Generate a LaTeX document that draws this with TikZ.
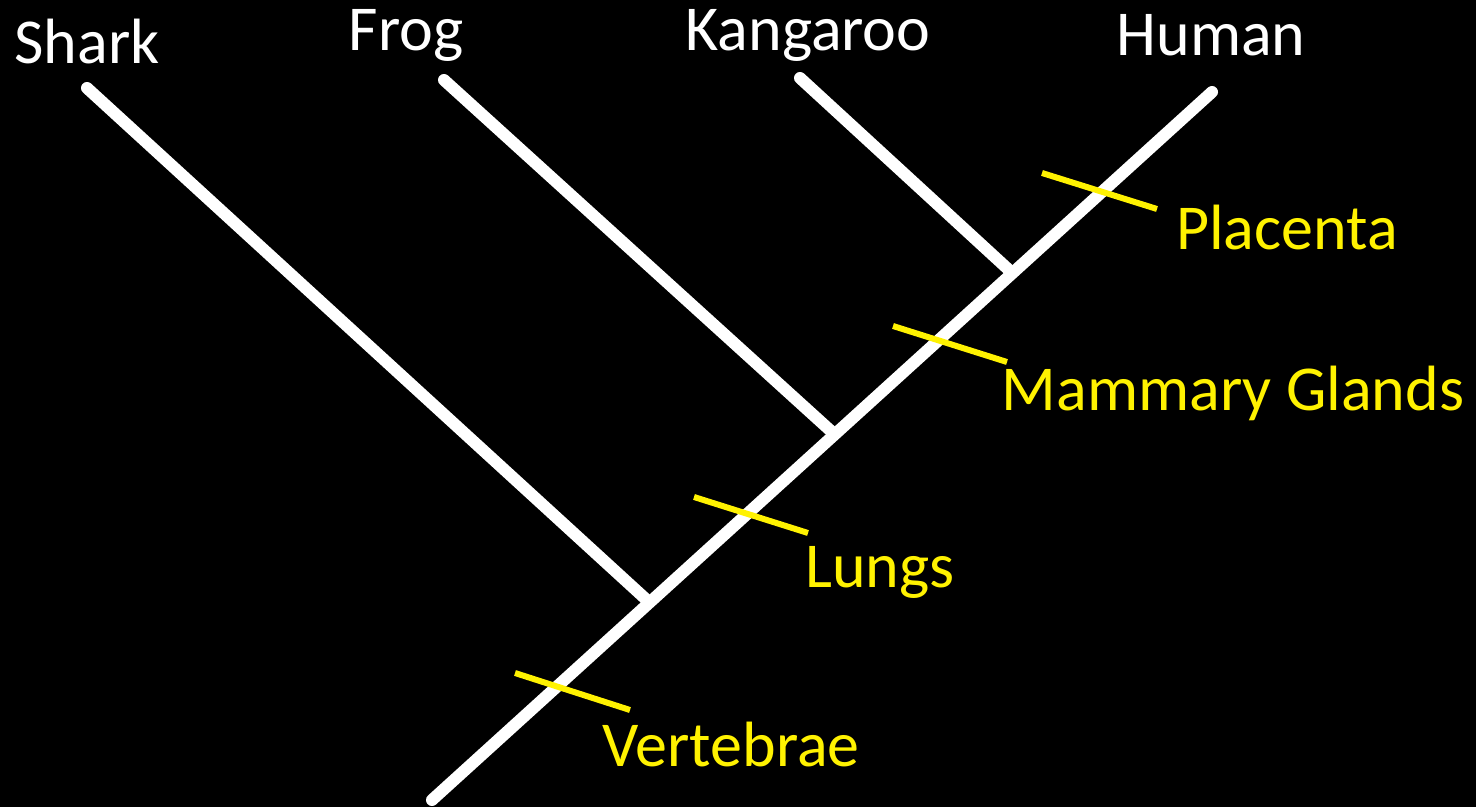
\documentclass[tikz,border=0pt]{standalone}
\usepackage{fontspec}
\setmainfont{Carlito}
\begin{document}
\begin{tikzpicture}[x=0.5pt,y=-0.5pt,
  branch/.style={draw=white,line width=6pt,line cap=round},
  trait/.style={draw=yellow,line width=3pt},
  taxon/.style={text=white,font=\fontsize{32}{38}\selectfont,inner sep=0pt},
  traitlbl/.style={text=yellow,font=\fontsize{32}{38}\selectfont,inner sep=0pt}]
\fill[black] (0,0) rectangle (1476,807);
\useasboundingbox (0,0) rectangle (1476,807);
% coordinates
\coordinate (root) at (432,800);
\coordinate (htip) at (1212,92);
\coordinate (stip) at (87,88);
\coordinate (ftip) at (444,80);
\coordinate (ktip) at (800,78);
\coordinate (j1) at (649,602);
\coordinate (j2) at (832,432);
\coordinate (j3) at (1009,270);
\coordinate (v1) at (515,673); \coordinate (v2) at (630,710);
\coordinate (l1) at (694,497); \coordinate (l2) at (808,533);
\coordinate (m1) at (893,326); \coordinate (m2) at (1007,362);
\coordinate (p1) at (1042,173); \coordinate (p2) at (1157,209);
% branches
\draw[branch] (root) -- (htip);
\draw[branch] (stip) -- (j1);
\draw[branch] (ftip) -- (j2);
\draw[branch] (ktip) -- (j3);
% traits
\draw[trait] (v1) -- (v2);
\draw[trait] (l1) -- (l2);
\draw[trait] (m1) -- (m2);
\draw[trait] (p1) -- (p2);
% labels
\node[taxon] (shark) at (87,42) {Shark};
\node[taxon] (frog) at (406,35) {Frog};
\node[taxon] (kang) at (808,35) {Kangaroo};
\node[taxon] (human) at (1211,35) {Human};
\node[traitlbl] (plac) at (1287,228) {Placenta};
\node[traitlbl] (mamm) at (1233,393) {Mammary Glands};
\node[traitlbl] (lung) at (880,572) {Lungs};
\node[traitlbl] (vert) at (731,745) {Vertebrae};
\end{tikzpicture}
\end{document}
